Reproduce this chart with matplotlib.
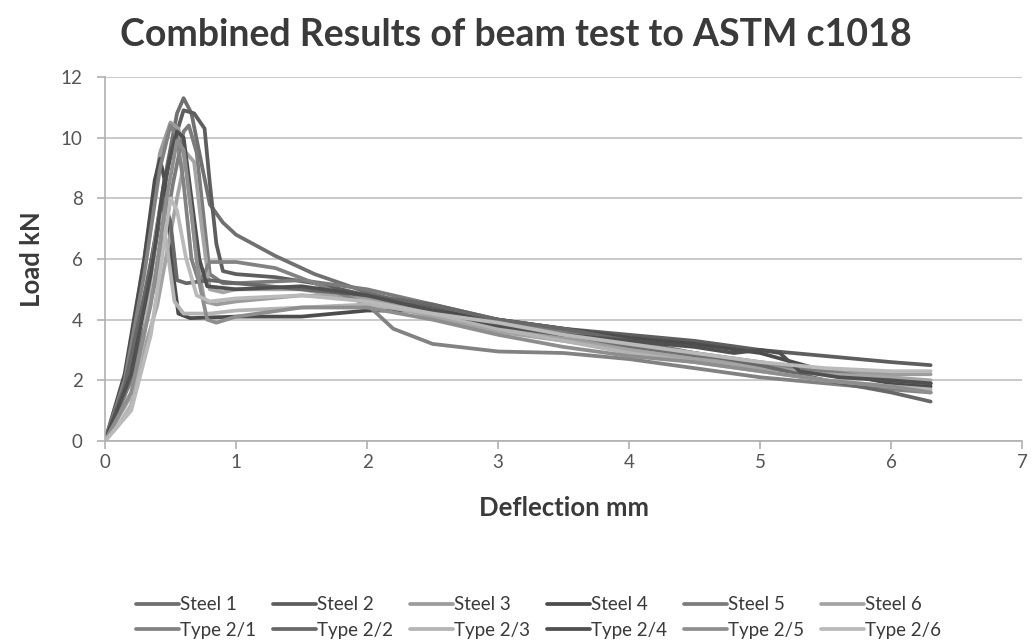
import matplotlib
matplotlib.use("Agg")
import matplotlib.pyplot as plt

plt.rcParams['font.family'] = ['Lato', 'DejaVu Sans']

names = ["Steel 1", "Steel 2", "Steel 3", "Steel 4", "Steel 5", "Steel 6",
         "Type 2/1", "Type 2/2", "Type 2/3", "Type 2/4", "Type 2/5", "Type 2/6"]

# deflection (mm) / load (kN)
s1_x = [0, 0.15, 0.3, 0.45, 0.55, 0.6, 0.66, 0.72, 0.8, 0.9, 1.0, 1.3, 1.6, 2.0, 2.5, 3.0, 3.5, 4.0, 4.5, 5.0, 5.5, 6.0, 6.3]
s1_y = [0, 1.5, 4.5, 8.5, 10.8, 11.3, 10.8, 9.5, 7.8, 7.2, 6.8, 6.1, 5.5, 4.9, 4.3, 3.8, 3.4, 3.1, 2.8, 2.5, 2.3, 2.1, 1.9]
s2_x = [0, 0.2, 0.35, 0.5, 0.6, 0.68, 0.76, 0.8, 0.85, 0.9, 1.0, 1.3, 1.6, 2.0, 2.5, 3.0, 3.5, 4.0, 4.5, 5.0, 5.5, 6.0, 6.3]
s2_y = [0, 2.5, 5.5, 9.5, 10.9, 10.8, 10.3, 8.5, 6.5, 5.6, 5.5, 5.4, 5.2, 4.8, 4.4, 4.0, 3.7, 3.5, 3.3, 3.0, 2.8, 2.6, 2.5]
s3_x = [0, 0.15, 0.3, 0.42, 0.5, 0.56, 0.62, 0.7, 0.76, 0.85, 1.0, 1.5, 2.0, 2.5, 3.0, 3.5, 4.0, 4.5, 5.0, 5.5, 6.0, 6.3]
s3_y = [0, 2.0, 6.0, 9.5, 10.5, 10.3, 9.0, 6.0, 4.6, 4.5, 4.6, 4.8, 4.7, 4.3, 3.8, 3.4, 3.0, 2.7, 2.5, 2.3, 2.2, 2.2]
s4_x = [0, 0.15, 0.3, 0.38, 0.42, 0.46, 0.52, 0.56, 0.65, 1.0, 1.5, 2.0, 2.5, 3.0, 3.5, 4.0, 4.5, 5.0, 5.5, 6.0, 6.3]
s4_y = [0, 2.2, 6.0, 8.6, 9.3, 8.5, 5.5, 4.2, 4.05, 4.1, 4.1, 4.3, 4.3, 4.0, 3.7, 3.4, 3.2, 2.9, 2.3, 1.9, 1.8]
s5_x = [0, 0.2, 0.4, 0.52, 0.6, 0.64, 0.7, 0.75, 0.8, 0.9, 1.0, 1.5, 2.0, 2.5, 3.0, 3.5, 4.0, 4.5, 5.0, 5.5, 6.0, 6.3]
s5_y = [0, 2.0, 5.5, 8.5, 10.2, 10.4, 9.5, 7.5, 5.5, 5.2, 5.2, 5.3, 5.0, 4.5, 4.0, 3.6, 3.2, 2.9, 2.6, 2.3, 2.0, 1.9]
s6_x = [0, 0.2, 0.4, 0.55, 0.62, 0.68, 0.74, 0.8, 0.9, 1.0, 1.5, 2.0, 2.5, 3.0, 3.5, 4.0, 4.5, 5.0, 5.5, 6.0, 6.3]
s6_y = [0, 1.5, 4.5, 8.0, 9.5, 9.2, 7.0, 5.0, 4.9, 5.0, 5.0, 4.6, 4.1, 3.6, 3.3, 3.0, 2.7, 2.4, 2.2, 2.1, 2.0]
t1_x = [0, 0.15, 0.3, 0.42, 0.5, 0.55, 0.6, 0.66, 0.72, 0.8, 1.0, 1.3, 1.6, 2.0, 2.2, 2.5, 3.0, 3.5, 4.0, 4.5, 5.0, 5.5, 6.0, 6.3]
t1_y = [0, 2.0, 5.5, 9.0, 10.4, 10.0, 8.5, 6.0, 5.2, 5.9, 5.9, 5.7, 5.2, 4.5, 3.7, 3.2, 2.95, 2.9, 2.7, 2.4, 2.1, 1.9, 1.7, 1.6]
t2_x = [0, 0.15, 0.3, 0.4, 0.45, 0.5, 0.55, 0.62, 0.8, 1.0, 1.5, 2.0, 2.5, 3.0, 3.5, 4.0, 4.5, 5.0, 5.5, 6.0, 6.3]
t2_y = [0, 1.8, 4.8, 7.0, 8.0, 7.2, 5.3, 5.2, 5.3, 5.2, 5.0, 4.8, 4.5, 4.0, 3.7, 3.3, 2.9, 2.5, 2.0, 1.6, 1.3]
t3_x = [0, 0.1, 0.2, 0.3, 0.38, 0.42, 0.47, 0.53, 0.6, 0.8, 1.0, 1.5, 2.0, 2.5, 3.0, 3.5, 4.0, 4.5, 5.0, 5.5, 6.0, 6.3]
t3_y = [0, 0.5, 1.2, 3.5, 6.5, 7.6, 6.5, 4.6, 4.2, 4.2, 4.3, 4.4, 4.5, 4.2, 3.7, 3.3, 2.9, 2.6, 2.3, 2.0, 1.8, 1.7]
t4_x = [0, 0.2, 0.35, 0.45, 0.55, 0.6, 0.66, 0.72, 0.78, 1.0, 1.5, 2.0, 2.5, 3.0, 3.5, 4.0, 4.5, 4.8, 5.0, 5.15, 5.3, 5.6, 6.0, 6.3]
t4_y = [0, 2.2, 5.5, 8.5, 10.2, 10.0, 8.0, 6.0, 5.1, 5.0, 5.1, 4.8, 4.3, 3.8, 3.5, 3.3, 3.1, 2.9, 3.0, 2.9, 2.3, 2.1, 2.0, 1.9]
t5_x = [0, 0.2, 0.35, 0.47, 0.55, 0.6, 0.66, 0.72, 0.78, 0.85, 1.0, 1.5, 2.0, 2.5, 3.0, 3.5, 4.0, 4.5, 5.0, 5.5, 6.0, 6.3]
t5_y = [0, 1.6, 4.5, 8.0, 9.9, 9.6, 7.5, 5.2, 4.0, 3.9, 4.1, 4.4, 4.4, 4.0, 3.5, 3.1, 2.8, 2.6, 2.3, 2.0, 1.8, 1.6]
t6_x = [0, 0.2, 0.35, 0.45, 0.5, 0.55, 0.62, 0.7, 0.8, 1.0, 1.5, 2.0, 2.5, 3.0, 3.5, 4.0, 4.5, 5.0, 5.5, 6.0, 6.3]
t6_y = [0, 1.0, 3.5, 6.5, 8.0, 7.6, 6.0, 4.8, 4.6, 4.7, 4.8, 4.6, 4.2, 3.9, 3.5, 3.2, 2.9, 2.6, 2.4, 2.3, 2.3]

xs = [s1_x, s2_x, s3_x, s4_x, s5_x, s6_x, t1_x, t2_x, t3_x, t4_x, t5_x, t6_x]
ys = [s1_y, s2_y, s3_y, s4_y, s5_y, s6_y, t1_y, t2_y, t3_y, t4_y, t5_y, t6_y]
colors = ["#707070", "#5e5e5e", "#9c9c9c", "#4c4c4c", "#7c7c7c", "#a4a4a4",
          "#828282", "#686868", "#b4b4b4", "#505050", "#8e8e8e", "#bababa"]

fig = plt.figure(figsize=(10.32, 6.41), dpi=100)
ax = fig.add_axes([0.1017, 0.312, 0.889, 0.568])

lines = []
for i in range(len(names)):
    l, = ax.plot(xs[i], ys[i], color=colors[i], lw=2.7, label=names[i],
                 solid_joinstyle='round', solid_capstyle='round')
    lines.append(l)

ax.set_xlim(0, 7)
ax.set_ylim(0, 12)
ax.set_xticks(range(0, 8))
ax.set_yticks(range(0, 13, 2))
ax.grid(axis='y', color='#c0c0c0', lw=1.2)
ax.set_axisbelow(True)
for s in ['top', 'right']:
    ax.spines[s].set_visible(False)
for s in ['left', 'bottom']:
    ax.spines[s].set_color('#b0b0b0')
    ax.spines[s].set_linewidth(1.2)
ax.tick_params(axis='both', colors='#b0b0b0', labelcolor='#555555', labelsize=13.5, length=6, width=1.2)
ax.tick_params(axis='y', pad=10)

ax.set_ylabel("Load kN", fontsize=18.5, fontweight='bold', color='#3a3a3a', labelpad=12)
ax.set_xlabel("Deflection mm", fontsize=18.5, fontweight='bold', color='#3a3a3a', labelpad=18)
fig.text(0.50, 0.945, "Combined Results of beam test to ASTM c1018", ha='center', va='center',
         fontsize=27, fontweight='bold', color='#3a3a3a')

# legend: row 1 steel, row 2 type 2 (legend fills by column)
order = []
for i in range(6):
    order.append(lines[i])
    order.append(lines[i + 6])
fig.legend(handles=order, labels=[l.get_label() for l in order], ncol=6, frameon=False,
           loc='center', bbox_to_anchor=(0.522, 0.037), fontsize=13.5, handlelength=2.3,
           handletextpad=0.05, columnspacing=0.9, labelspacing=0.45, labelcolor='#3a3a3a')

fig.savefig("out.png", dpi=100)
